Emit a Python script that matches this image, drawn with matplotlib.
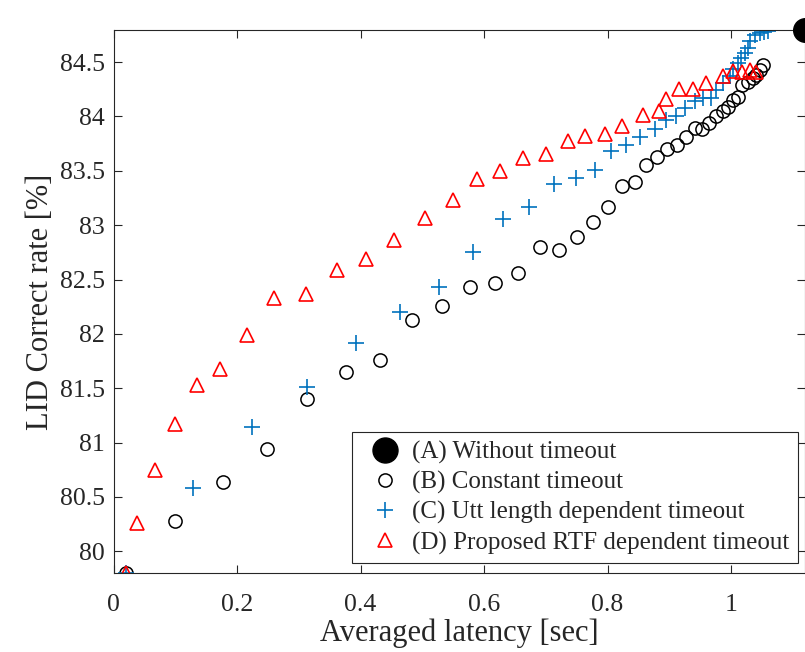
import numpy as np
import matplotlib.pyplot as plt

plt.rcParams['font.family'] = ['Liberation Serif', 'DejaVu Serif']
plt.rcParams['mathtext.fontset'] = 'stix'

# (A) no timeout: a single operating point
a_lat = [1.119]
a_acc = [84.795]

# (B) constant timeout
b_lat = [0.020, 0.100, 0.178, 0.248, 0.314, 0.376, 0.432, 0.484, 0.532, 0.577,
         0.617, 0.655, 0.690, 0.721, 0.751, 0.776, 0.801, 0.823, 0.844, 0.862,
         0.880, 0.897, 0.913, 0.927, 0.941, 0.953, 0.964, 0.976, 0.987, 0.995,
         1.003, 1.011, 1.018, 1.027, 1.035, 1.041, 1.046, 1.051]
b_acc = [79.80, 80.28, 80.64, 80.94, 81.40, 81.65, 81.76, 82.13, 82.26, 82.43,
         82.47, 82.56, 82.80, 82.77, 82.89, 83.03, 83.17, 83.36, 83.40, 83.55,
         83.63, 83.70, 83.74, 83.81, 83.89, 83.88, 83.94, 84.00, 84.05, 84.09,
         84.15, 84.18, 84.29, 84.32, 84.35, 84.38, 84.43, 84.47]

# (C) utterance length dependent timeout
c_lat = [0.020, 0.128, 0.225, 0.314, 0.392, 0.464, 0.527, 0.582, 0.631, 0.673,
         0.713, 0.749, 0.779, 0.806, 0.830, 0.852, 0.876, 0.895, 0.911, 0.925,
         0.941, 0.954, 0.968, 0.976, 0.987, 0.998, 1.003, 1.011, 1.016, 1.022,
         1.027, 1.030, 1.038, 1.046, 1.054, 1.060]
c_acc = [79.80, 80.58, 81.14, 81.51, 81.92, 82.20, 82.43, 82.75, 83.06, 83.17,
         83.38, 83.43, 83.51, 83.68, 83.74, 83.81, 83.88, 83.97, 84.00, 84.08,
         84.14, 84.17, 84.17, 84.24, 84.31, 84.37, 84.44, 84.49, 84.54, 84.58,
         84.63, 84.69, 84.75, 84.77, 84.78, 84.79]

# (D) proposed RTF dependent timeout
d_lat = [0.020, 0.038, 0.067, 0.100, 0.135, 0.172, 0.216, 0.260, 0.311, 0.362,
         0.409, 0.454, 0.504, 0.550, 0.588, 0.625, 0.663, 0.701, 0.736, 0.764,
         0.796, 0.823, 0.857, 0.883, 0.895, 0.916, 0.938, 0.960, 0.987, 1.003,
         1.017, 1.030, 1.041]
d_acc = [79.80, 80.26, 80.75, 81.17, 81.53, 81.68, 81.99, 82.33, 82.37, 82.59,
         82.69, 82.86, 83.07, 83.23, 83.42, 83.50, 83.62, 83.65, 83.77, 83.82,
         83.84, 83.91, 84.01, 84.05, 84.16, 84.25, 84.25, 84.31, 84.37, 84.42,
         84.41, 84.43, 84.41]

x_ticks = [0, 0.2, 0.4, 0.6, 0.8, 1]
x_ticklabels = ['0', '0.2', '0.4', '0.6', '0.8', '1']
y_ticks = [80, 80.5, 81, 81.5, 82, 82.5, 83, 83.5, 84, 84.5]
y_ticklabels = ['80', '80.5', '81', '81.5', '82', '82.5', '83', '83.5', '84', '84.5']

fig = plt.figure(figsize=(8.05, 6.52), dpi=100)
ax = fig.add_axes([0.141, 0.121, 0.8585, 0.833])

ax.plot(a_lat, a_acc, 'o', color='black', markersize=17, clip_on=False,
        label='(A) Without timeout', zorder=5)
ax.plot(b_lat, b_acc, 'o', color='black', markerfacecolor='none', markersize=9.5,
        markeredgewidth=1.1, label='(B) Constant timeout')
ax.plot(c_lat, c_acc, '+', color='#0072BD', markersize=11, markeredgewidth=1.2,
        label='(C) Utt length dependent timeout')
ax.plot(d_lat, d_acc, '^', color='red', markerfacecolor='none', markersize=10,
        markeredgewidth=1.2, label='(D) Proposed RTF dependent timeout')

# tight limits around the data
ax.set_xlim(0, max(a_lat))
ax.set_ylim(min(b_acc + c_acc + d_acc), max(a_acc))

ax.set_xticks(x_ticks)
ax.set_xticklabels(x_ticklabels)
ax.set_yticks(y_ticks)
ax.set_yticklabels(y_ticklabels)
ax.tick_params(direction='in', length=6, width=0.8, colors='#262626',
               labelsize=18.5, top=True, right=True)
ax.tick_params(axis='x', pad=15)
ax.tick_params(axis='y', pad=6)
for sp in ax.spines.values():
    sp.set_color('#262626')
    sp.set_linewidth(0.8)

ax.set_xlabel('Averaged latency [sec]', fontsize=22, color='#262626', labelpad=2)
ax.set_ylabel('LID Correct rate [%]', fontsize=22, color='#262626', labelpad=4)

leg = ax.legend(loc='lower right', bbox_to_anchor=(0.99, 0.018), borderaxespad=0,
                fontsize=18, fancybox=False, edgecolor='#262626', framealpha=1,
                handlelength=1.95, handletextpad=0.1, labelspacing=0.28,
                borderpad=0.35, markerscale=1.0)
leg.get_frame().set_linewidth(0.8)
leg.legend_handles[0].set_markersize(18)
for t in leg.get_texts():
    t.set_color('#262626')

fig.savefig('out.png', dpi=100)
